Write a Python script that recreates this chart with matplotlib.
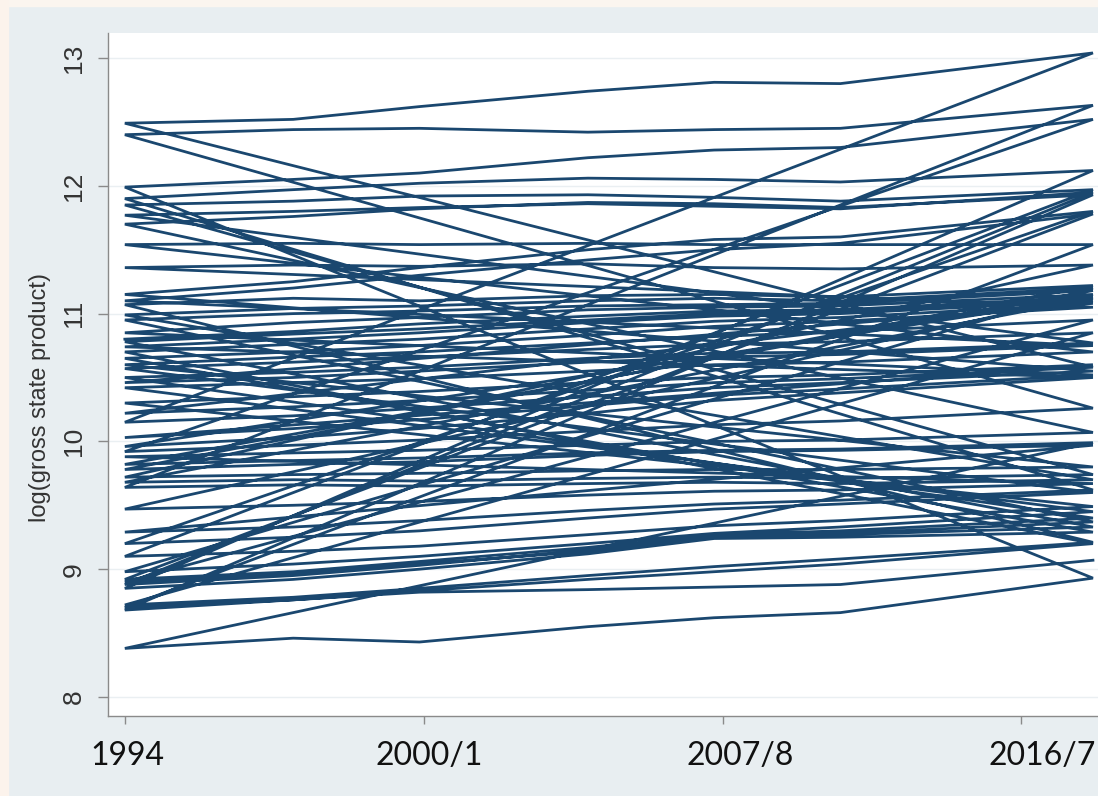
import matplotlib
matplotlib.use('Agg')
import matplotlib.pyplot as plt
import matplotlib.transforms as mtransforms
from matplotlib.patches import Rectangle

years = [1994, 1998, 2001, 2005, 2008, 2011, 2017]

# log gross state product, one row per state, in file order
log_gsp = [
    [10.80, 10.86, 10.92, 10.98, 11.02, 11.03, 11.13],
    [9.96, 10.03, 10.10, 10.22, 10.32, 10.38, 10.50],
    [10.74, 10.80, 10.85, 10.93, 10.98, 11.00, 11.10],
    [10.22, 10.27, 10.32, 10.40, 10.46, 10.49, 10.58],
    [12.49, 12.52, 12.62, 12.74, 12.81, 12.80, 13.04],
    [10.15, 10.20, 10.26, 10.35, 10.42, 10.46, 10.55],
    [11.15, 11.25, 11.36, 11.50, 11.58, 11.60, 11.80],
    [9.20, 9.25, 9.30, 9.40, 9.47, 9.51, 9.60],
    [10.57, 10.62, 10.66, 10.72, 10.76, 10.78, 10.85],
    [8.72, 8.78, 8.85, 8.95, 9.02, 9.08, 9.21],
    [11.07, 11.12, 11.10, 11.14, 11.15, 11.13, 11.22],
    [9.78, 9.82, 9.84, 9.89, 9.92, 9.93, 9.97],
    [9.29, 9.33, 9.38, 9.46, 9.51, 9.54, 9.62],
    [11.90, 11.97, 12.02, 12.06, 12.05, 12.03, 12.12],
    [8.85, 8.92, 9.00, 9.12, 9.24, 9.25, 9.29],
    [10.65, 10.70, 10.75, 10.83, 10.90, 10.94, 11.05],
    [11.36, 11.38, 11.37, 11.39, 11.36, 11.35, 11.38],
    [9.72, 9.74, 9.75, 9.77, 9.78, 9.78, 9.80],
    [10.60, 10.66, 10.70, 10.77, 10.82, 10.86, 10.95],
    [8.90, 8.96, 9.04, 9.14, 9.25, 9.28, 9.37],
    [10.95, 11.00, 11.02, 11.06, 11.07, 11.08, 11.18],
    [9.82, 9.85, 9.87, 9.91, 9.93, 9.94, 9.99],
    [8.38, 8.46, 8.43, 8.55, 8.62, 8.66, 8.93],
    [11.99, 12.05, 12.10, 12.22, 12.28, 12.30, 12.52],
    [9.92, 9.97, 10.01, 10.08, 10.13, 10.16, 10.26],
    [12.40, 12.44, 12.45, 12.42, 12.44, 12.45, 12.63],
    [9.64, 9.66, 9.65, 9.67, 9.68, 9.67, 9.70],
    [10.99, 11.04, 11.06, 11.10, 11.12, 11.10, 11.20],
    [8.98, 9.04, 9.10, 9.20, 9.28, 9.33, 9.45],
    [10.42, 10.46, 10.49, 10.55, 10.60, 10.62, 10.70],
    [11.54, 11.55, 11.54, 11.55, 11.54, 11.54, 11.54],
    [8.70, 8.76, 8.83, 8.92, 8.98, 9.04, 9.20],
    [10.70, 10.76, 10.80, 10.88, 10.94, 10.97, 11.08],
    [10.46, 10.50, 10.55, 10.62, 10.66, 10.68, 10.75],
    [11.10, 11.20, 11.30, 11.42, 11.50, 11.55, 11.78],
    [8.92, 8.98, 9.06, 9.17, 9.27, 9.30, 9.40],
    [10.50, 10.54, 10.58, 10.65, 10.69, 10.70, 10.77],
    [11.77, 11.80, 11.83, 11.86, 11.84, 11.82, 11.95],
    [8.88, 8.95, 9.03, 9.15, 9.26, 9.27, 9.33],
    [10.78, 10.84, 10.88, 10.95, 11.00, 11.02, 11.12],
    [9.68, 9.70, 9.69, 9.71, 9.72, 9.71, 9.74],
    [11.85, 11.88, 11.92, 11.93, 11.91, 11.88, 11.97],
    [9.10, 9.14, 9.18, 9.27, 9.34, 9.38, 9.49],
    [10.30, 10.35, 10.39, 10.46, 10.50, 10.52, 10.60],
    [10.03, 10.10, 10.17, 10.28, 10.36, 10.41, 10.52],
    [10.85, 10.93, 10.97, 11.03, 11.05, 11.06, 11.15],
    [9.47, 9.50, 9.53, 9.58, 9.61, 9.62, 9.67],
    [9.88, 9.91, 9.93, 9.97, 10.00, 10.01, 10.07],
    [11.70, 11.76, 11.82, 11.87, 11.86, 11.83, 11.93],
    [8.68, 8.76, 8.82, 8.84, 8.86, 8.88, 9.07],
]

period_ticks = [1994, 2001.1, 2008.2, 2015.3]
period_labels = ['1994', '2000/1', '2007/8', '2016/7']
label_x = [1994.05, 2001.22, 2008.63, 2015.79]
y_ticks = [8, 9, 10, 11, 12, 13]

# twoway line without sort: every observation joined in file order
xs, ys = [], []
for row in log_gsp:
    xs += years
    ys += row

fig = plt.figure(figsize=(10.98, 7.96), dpi=100, facecolor='#e8eef1')
fig.patches.append(Rectangle((0, 1 - 6 / 796), 1, 6 / 796, transform=fig.transFigure,
                             color='#fbf5ef', zorder=-1))
fig.patches.append(Rectangle((0, 0), 8 / 1098, 1, transform=fig.transFigure,
                             color='#fcf3ec', zorder=-1))

ax = fig.add_axes([108 / 1098, 80 / 796, 990 / 1098, 683 / 796])
ax.set_facecolor('white')
ax.plot(xs, ys, color='#1a476f', lw=2.0, solid_joinstyle='miter')

ax.set_xlim(1993.6, 2017.12)
ax.set_ylim(7.851, 13.196)

for sp in ['top', 'right']:
    ax.spines[sp].set_visible(False)
for sp in ['left', 'bottom']:
    ax.spines[sp].set_color('#8a8a8a')
    ax.spines[sp].set_linewidth(1.0)

ax.set_yticks(y_ticks)
ax.set_yticklabels([str(v) for v in y_ticks], rotation=90, va='center',
                   fontsize=19, family='Liberation Sans', color='#333333')
ax.tick_params(axis='y', length=7, width=1, color='#8a8a8a', pad=9)
ax.grid(axis='y', color='#eaeff2', lw=1.0)
ax.set_axisbelow(True)

ax.set_xticks(period_ticks)
ax.set_xticklabels([])
ax.tick_params(axis='x', length=6, width=1, color='#8a8a8a')
trans = mtransforms.blended_transform_factory(ax.transData, fig.transFigure)
for xv, lab in zip(label_x, period_labels):
    ax.text(xv, 1 - 756 / 796, lab, transform=trans, ha='center', va='center',
            fontsize=23, family='Lato', color='#111111')

fig.text(40 / 1098, 1 - 398 / 796, 'log(gross state product)', rotation=90,
         ha='center', va='center', fontsize=17, family='Liberation Sans',
         color='#333333')

fig.savefig('out.png', dpi=100, facecolor=fig.get_facecolor())
